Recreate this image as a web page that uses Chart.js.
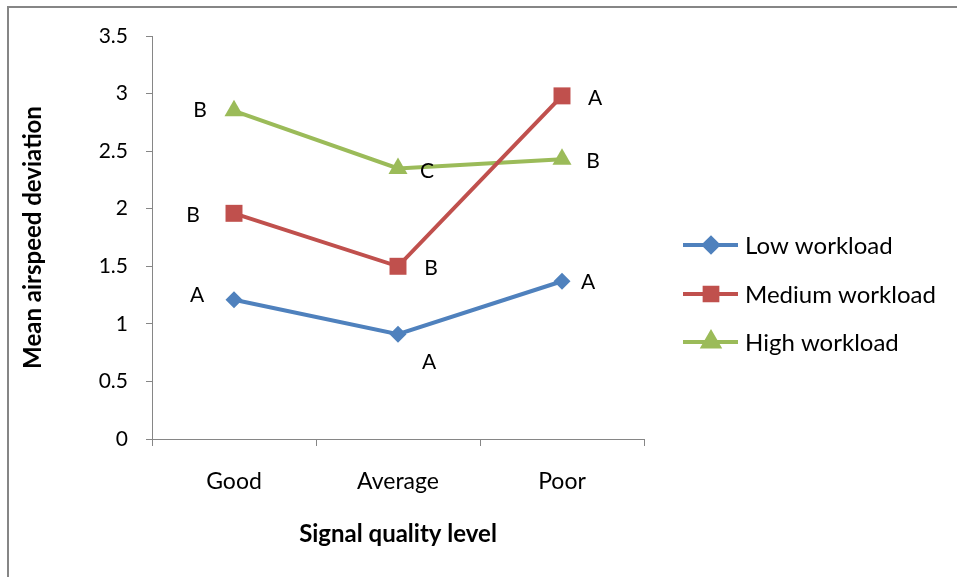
<!DOCTYPE html>
<html>
<head>
<meta charset="utf-8">
<script src="https://cdn.jsdelivr.net/npm/chart.js@4.4.1/dist/chart.umd.min.js"></script>
<style>
  html, body { margin: 0; padding: 0; background: #ffffff; }
  #wrap { width: 957px; height: 577px; position: relative; }
</style>
</head>
<body>
<div id="wrap"><canvas id="c" width="957" height="577"></canvas></div>
<script>
// ---- data ----
const categories = ['Good', 'Average', 'Poor'];
const seriesNames = ['Low workload', 'Medium workload', 'High workload'];
const lowWorkload = [1.21, 0.91, 1.37];
const mediumWorkload = [1.96, 1.50, 2.98];
const highWorkload = [2.85, 2.35, 2.43];
const lowLetters = ['A', 'A', 'A'];
const mediumLetters = ['B', 'B', 'A'];
const highLetters = ['B', 'C', 'B'];
const yTicks = [0, 0.5, 1, 1.5, 2, 2.5, 3, 3.5];
const yTitle = 'Mean airspeed deviation';
const xTitle = 'Signal quality level';

// ---- style ----
const FONT = 'Lato, "Open Sans", sans-serif';
const colors = ['#4F81BD', '#C0504D', '#9BBB59'];
const pointStyles = ['rectRot', 'rect', 'triangle'];
const pointRadii = [8.5, 12, 11];
const legendRadii = [7, 9, 9];
const letterSets = [lowLetters, mediumLetters, highLetters];
const letterOffsets = [
  [[-37, -4], [31, 28], [26, 1]],
  [[-41, 2], [33, 2], [33, 2]],
  [[-34, -1], [29, 3], [31, 2]]
];
const axisGray = '#868686';

const borderPlugin = {
  id: 'frame',
  beforeDraw(chart) {
    const ctx = chart.ctx;
    ctx.save();
    ctx.fillStyle = '#ffffff';
    ctx.fillRect(0, 0, chart.width, chart.height);
    ctx.strokeStyle = axisGray;
    ctx.lineWidth = 2;
    ctx.beginPath();
    ctx.moveTo(8, chart.height);
    ctx.lineTo(8, 7);
    ctx.lineTo(chart.width, 7);
    ctx.stroke();
    ctx.restore();
  }
};

const letterPlugin = {
  id: 'letters',
  afterDatasetsDraw(chart) {
    const ctx = chart.ctx;
    ctx.save();
    ctx.font = '21px ' + FONT;
    ctx.fillStyle = '#000000';
    ctx.textAlign = 'center';
    ctx.textBaseline = 'middle';
    chart.data.datasets.forEach((ds, di) => {
      const meta = chart.getDatasetMeta(di);
      meta.data.forEach((pt, i) => {
        const off = letterOffsets[di][i];
        ctx.fillText(letterSets[di][i], pt.x + off[0], pt.y + off[1]);
      });
    });
    ctx.restore();
  }
};

const legendPlugin = {
  id: 'sideLegend',
  afterDraw(chart) {
    const ctx = chart.ctx;
    const rows = [245, 294, 342];
    ctx.save();
    chart.data.datasets.forEach((ds, di) => {
      const y = rows[di];
      ctx.strokeStyle = colors[di];
      ctx.lineWidth = 4;
      ctx.beginPath();
      ctx.moveTo(683, y);
      ctx.lineTo(738, y);
      ctx.stroke();
      Chart.helpers.drawPoint(ctx, {
        pointStyle: pointStyles[di], radius: legendRadii[di], rotation: 0, borderWidth: 1
      }, 711, y);
      ctx.fillStyle = colors[di];
      ctx.fill();
      ctx.fillStyle = '#000000';
      ctx.font = '24px ' + FONT;
      ctx.textAlign = 'left';
      ctx.textBaseline = 'middle';
      ctx.fillText(ds.label, 745, y + 1);
    });
    ctx.restore();
  }
};

const datasets = [lowWorkload, mediumWorkload, highWorkload].map((vals, i) => ({
  label: seriesNames[i],
  data: vals,
  borderColor: colors[i],
  backgroundColor: colors[i],
  borderWidth: 4,
  pointStyle: pointStyles[i],
  pointRadius: pointRadii[i],
  pointHoverRadius: pointRadii[i],
  pointBackgroundColor: colors[i],
  pointBorderColor: colors[i],
  pointBorderWidth: 0,
  tension: 0,
  clip: false
}));

new Chart(document.getElementById('c'), {
  type: 'line',
  data: { labels: categories, datasets },
  options: {
    responsive: false,
    animation: false,
    devicePixelRatio: 1,
    layout: { padding: { left: 0, right: 313, top: 36, bottom: 0 } },
    plugins: {
      legend: { display: false },
      tooltip: { enabled: false }
    },
    scales: {
      x: {
        type: 'category',
        offset: true,
        grid: { display: true, drawOnChartArea: false, drawTicks: true, tickLength: 7, color: axisGray, offset: true },
        border: { display: true, color: axisGray, width: 1 },
        ticks: { color: '#000000', font: { family: FONT, size: 23 }, padding: 22, maxRotation: 0 },
        title: { display: true, text: xTitle, color: '#000000', font: { family: FONT, size: 24, weight: 'bold' }, padding: { top: 0, bottom: 28 } },
        afterFit(scale) { scale.height = 138; }
      },
      y: {
        min: 0,
        max: 3.5,
        afterBuildTicks(scale) { scale.ticks = yTicks.map(v => ({ value: v })); },
        grid: { display: true, drawOnChartArea: false, drawTicks: true, tickLength: 6, color: axisGray },
        border: { display: true, color: axisGray, width: 1 },
        ticks: { color: '#000000', font: { family: FONT, size: 21 }, padding: 18, callback: v => String(v) },
        title: { display: true, text: yTitle, color: '#000000', font: { family: FONT, size: 24, weight: 'bold' }, padding: { top: 19, bottom: 0 } },
        afterFit(scale) { scale.width = 152; }
      }
    }
  },
  plugins: [borderPlugin, letterPlugin, legendPlugin]
});
</script>
</body>
</html>
